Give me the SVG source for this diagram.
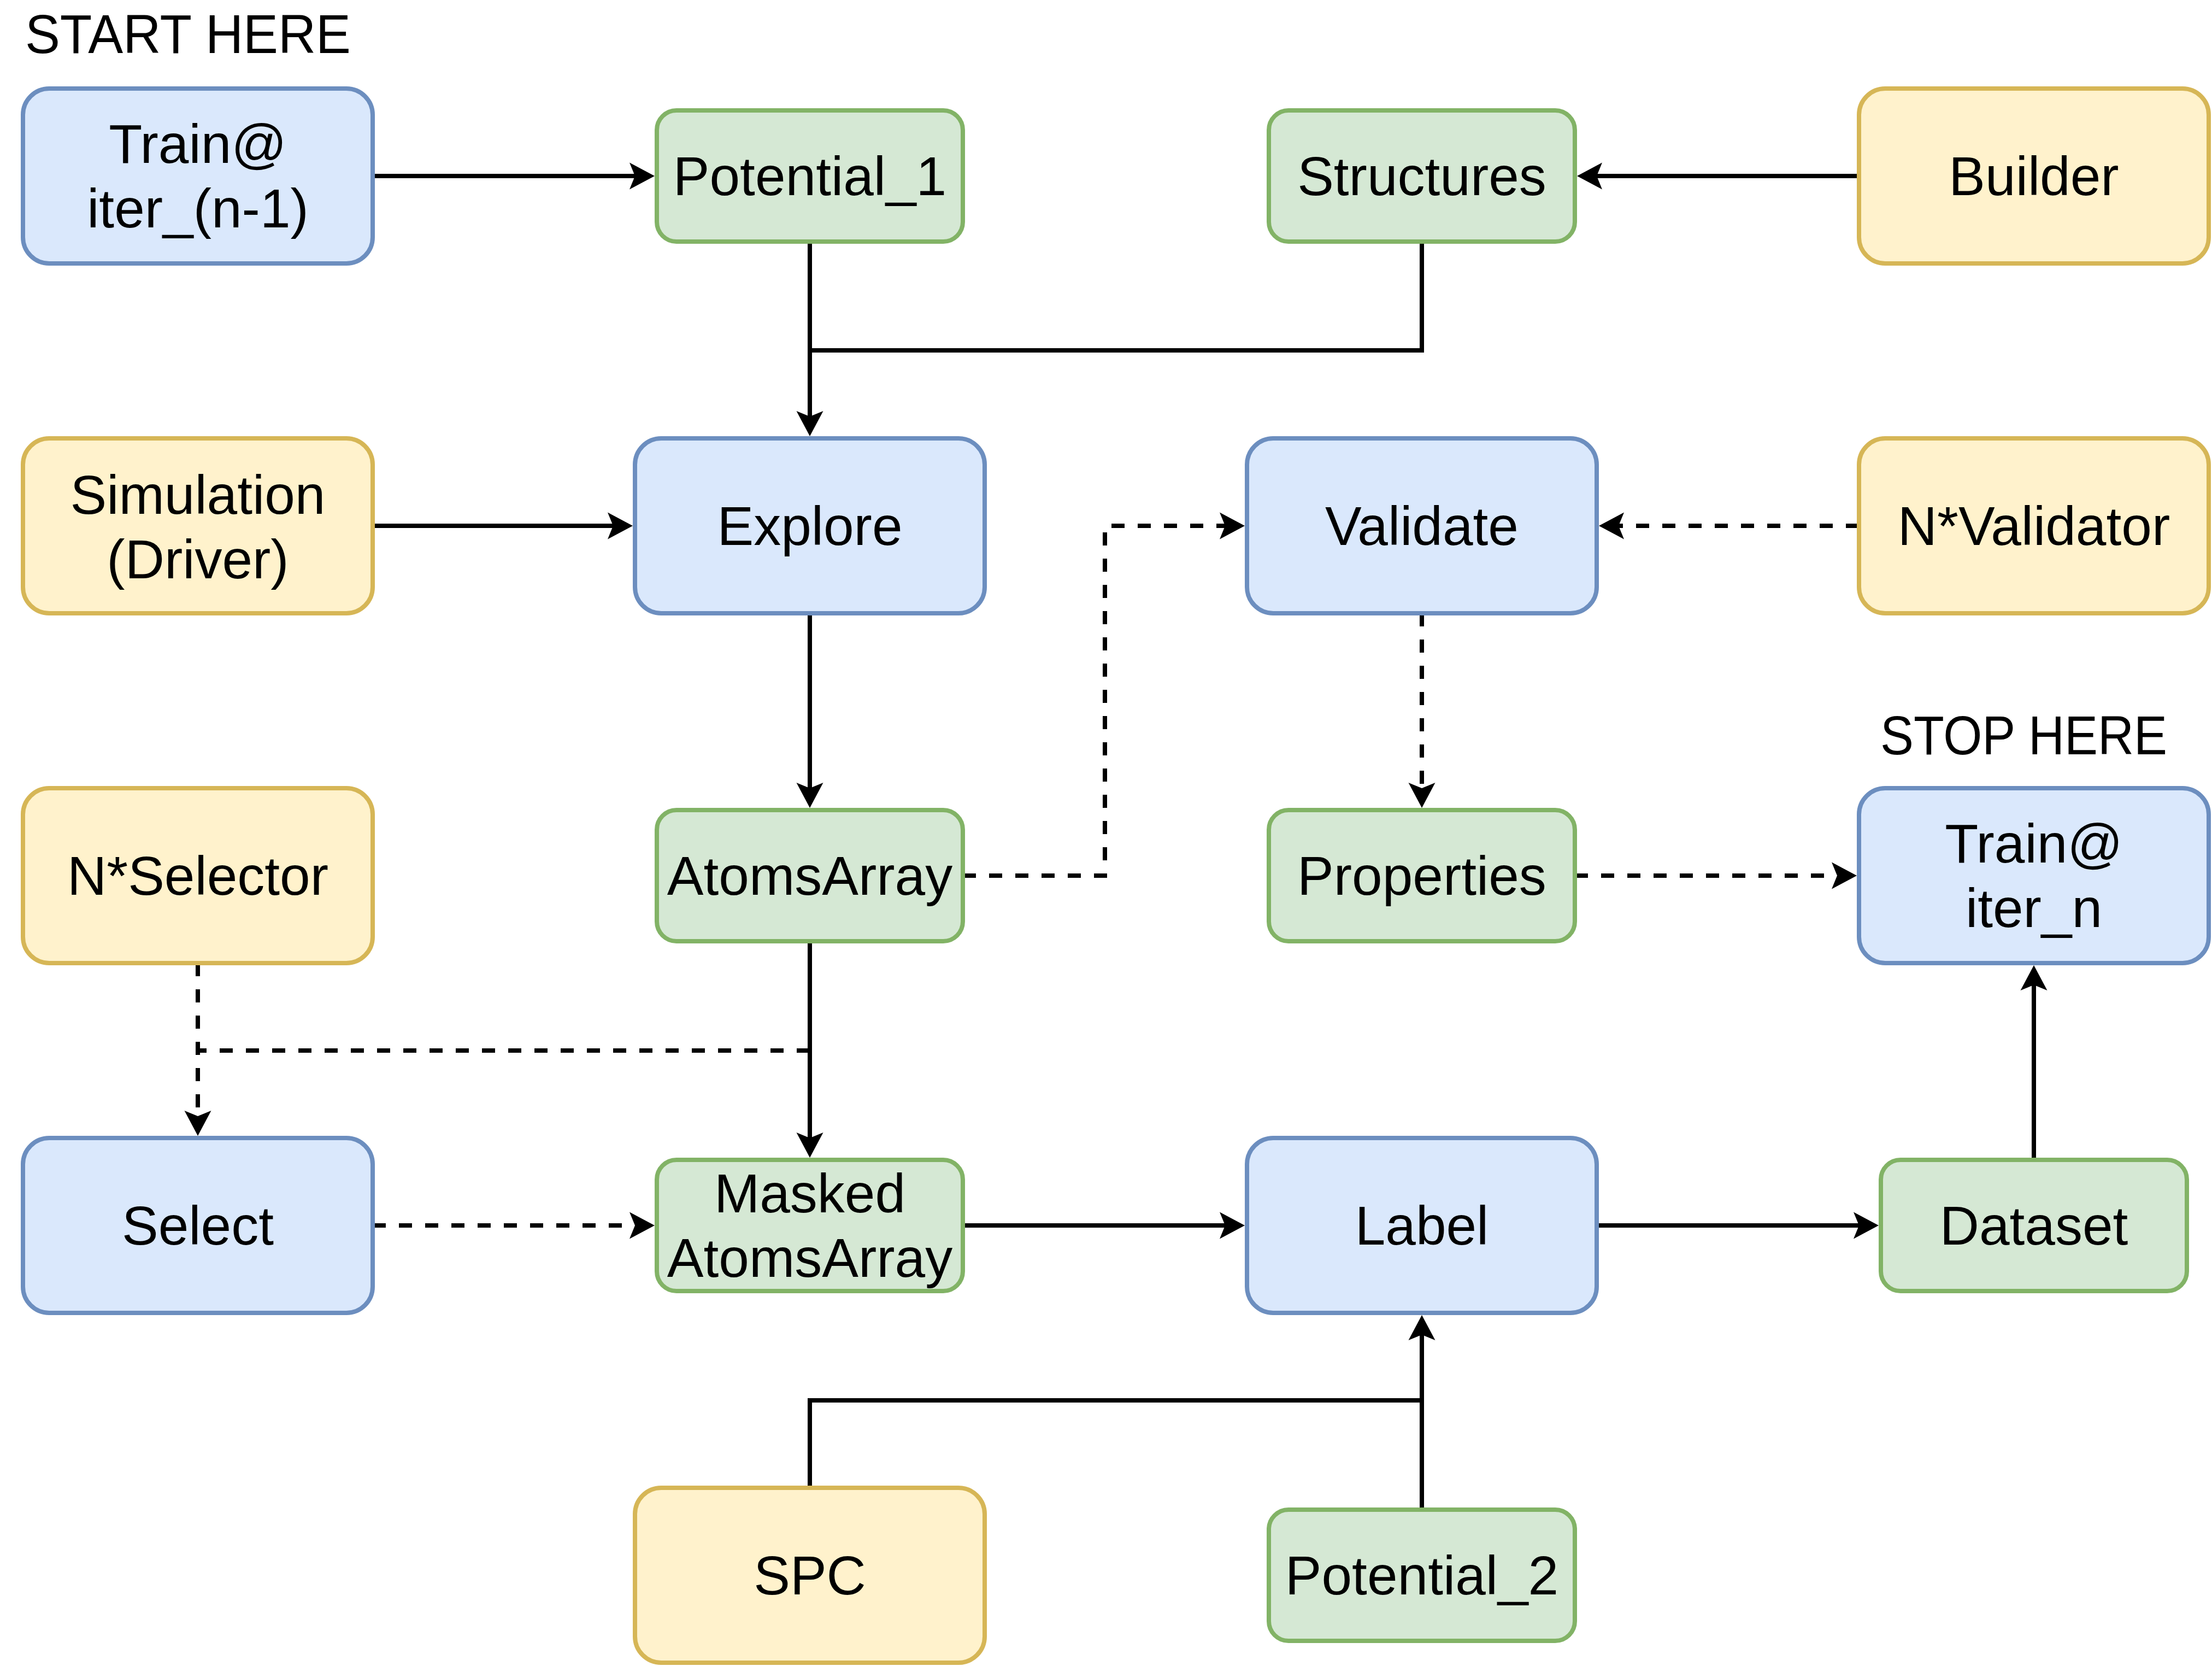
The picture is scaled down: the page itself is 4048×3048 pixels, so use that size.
<svg xmlns="http://www.w3.org/2000/svg" width="4048" height="3048" viewBox="0 0 4048 3048">
<style>
.blue{fill:#dae8fc;stroke:#6c8ebf;stroke-width:8}
.green{fill:#d5e8d4;stroke:#82b366;stroke-width:8}
.yellow{fill:#fff2cc;stroke:#d6b656;stroke-width:8}
text{font-family:"Liberation Sans",Arial,sans-serif;font-size:100px;fill:#000;text-anchor:middle}
.edge{fill:none;stroke:#000;stroke-width:8}
.dash{stroke-dasharray:24 24}
.arr{marker-end:url(#arrow)}
</style>
<defs>
<marker id="arrow" markerUnits="userSpaceOnUse" viewBox="-20 -30 60 60" refX="0" refY="0" markerWidth="60" markerHeight="60" orient="auto">
<path d="M30,0 L-16,-24.5 L-6,0 L-16,24.5 Z" fill="#000" stroke="none"/>
</marker>
</defs>
<rect width="4048" height="3048" fill="#fff"/>
<text x="46" y="97" style="text-anchor:start" textLength="596" lengthAdjust="spacingAndGlyphs">START HERE</text>
<text x="3441" y="1380" style="text-anchor:start" textLength="525" lengthAdjust="spacingAndGlyphs">STOP HERE</text>
<g id="connectors">
<path class="edge arr" d="M682,322 H1168"/>
<path class="edge arr" d="M3402,322 H2916"/>
<path class="edge arr" d="M1482,442 V768"/>
<path class="edge" d="M2602,442 V641 H1482"/>
<path class="edge arr" d="M682,962 H1128"/>
<path class="edge arr" d="M1482,1122 V1448"/>
<path class="edge dash arr" d="M1762,1602 H2022 V962 H2248"/>
<path class="edge dash arr" d="M3402,962 H2956"/>
<path class="edge dash arr" d="M2602,1122 V1448"/>
<path class="edge dash arr" d="M2882,1602 H3368"/>
<path class="edge arr" d="M1482,1722 V2088"/>
<path class="edge dash arr" d="M362,1762 V2048"/>
<path class="edge dash" d="M1482,1922 H362"/>
<path class="edge dash arr" d="M682,2242 H1168"/>
<path class="edge arr" d="M1762,2242 H2248"/>
<path class="edge arr" d="M2922,2242 H3408"/>
<path class="edge arr" d="M3722,2122 V1796"/>
<path class="edge arr" d="M2602,2762 V2436"/>
<path class="edge" d="M1482,2722 V2562 H2602"/>
</g>
<g id="train_prev"><rect class="blue" x="42" y="162" width="640" height="320" rx="48"/><text x="362" y="298">Train@</text><text x="362" y="416">iter_(n-1)</text></g>
<g id="potential_1"><rect class="green" x="1202" y="202" width="560" height="240" rx="36"/><text x="1482" y="357">Potential_1</text></g>
<g id="structures"><rect class="green" x="2322" y="202" width="560" height="240" rx="36"/><text x="2602" y="357">Structures</text></g>
<g id="builder"><rect class="yellow" x="3402" y="162" width="640" height="320" rx="48"/><text x="3722" y="357">Builder</text></g>
<g id="simulation"><rect class="yellow" x="42" y="802" width="640" height="320" rx="48"/><text x="362" y="940">Simulation</text><text x="362" y="1058">(Driver)</text></g>
<g id="explore"><rect class="blue" x="1162" y="802" width="640" height="320" rx="48"/><text x="1482" y="997">Explore</text></g>
<g id="validate"><rect class="blue" x="2282" y="802" width="640" height="320" rx="48"/><text x="2602" y="997">Validate</text></g>
<g id="n_validator"><rect class="yellow" x="3402" y="802" width="640" height="320" rx="48"/><text x="3722" y="997">N*Validator</text></g>
<g id="n_selector"><rect class="yellow" x="42" y="1442" width="640" height="320" rx="48"/><text x="362" y="1637">N*Selector</text></g>
<g id="atoms_array"><rect class="green" x="1202" y="1482" width="560" height="240" rx="36"/><text x="1482" y="1637">AtomsArray</text></g>
<g id="properties"><rect class="green" x="2322" y="1482" width="560" height="240" rx="36"/><text x="2602" y="1637">Properties</text></g>
<g id="train_n"><rect class="blue" x="3402" y="1442" width="640" height="320" rx="48"/><text x="3722" y="1578">Train@</text><text x="3722" y="1696">iter_n</text></g>
<g id="select"><rect class="blue" x="42" y="2082" width="640" height="320" rx="48"/><text x="362" y="2277">Select</text></g>
<g id="masked_atoms_array"><rect class="green" x="1202" y="2122" width="560" height="240" rx="36"/><text x="1482" y="2218">Masked</text><text x="1482" y="2336">AtomsArray</text></g>
<g id="label"><rect class="blue" x="2282" y="2082" width="640" height="320" rx="48"/><text x="2602" y="2277">Label</text></g>
<g id="dataset"><rect class="green" x="3442" y="2122" width="560" height="240" rx="36"/><text x="3722" y="2277">Dataset</text></g>
<g id="spc"><rect class="yellow" x="1162" y="2722" width="640" height="320" rx="48"/><text x="1482" y="2917">SPC</text></g>
<g id="potential_2"><rect class="green" x="2322" y="2762" width="560" height="240" rx="36"/><text x="2602" y="2917">Potential_2</text></g>
</svg>
